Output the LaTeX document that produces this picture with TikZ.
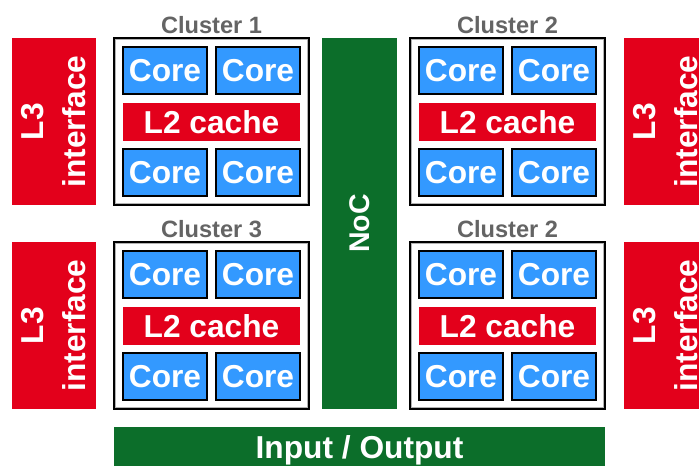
\documentclass[tikz,border=0pt]{standalone}
\usepackage{fontspec}
\setmainfont{Liberation Sans}
\definecolor{l3red}{RGB}{227,0,27}
\definecolor{coreblue}{RGB}{51,153,255}
\definecolor{nocgreen}{RGB}{12,110,42}
\definecolor{titlegray}{RGB}{100,100,100}
\tikzset{
  bigfont/.style={font=\bfseries\fontsize{31.7}{42}\selectfont},
  cluster/.style={draw=black, line width=1.4pt, fill=white, minimum width=195pt, minimum height=167pt, inner sep=0pt},
  innerline/.style={draw=gray!60, line width=0.7pt},
  ctitle/.style={text=titlegray, font=\bfseries\fontsize{23.6}{28}\selectfont, inner sep=0pt},
  core/.style={bigfont, draw=black, line width=1.3pt, fill=coreblue, text=white, minimum width=84pt, minimum height=47pt, inner sep=0pt},
  ltwo/.style={bigfont, fill=l3red, text=white, minimum width=177pt, minimum height=38pt, inner sep=0pt},
  lthree/.style={bigfont, fill=l3red, text=white, rotate=90, align=center, minimum width=167pt, minimum height=84pt, inner sep=0pt},
  noc/.style={font=\bfseries\fontsize{28.5}{34}\selectfont, fill=nocgreen, text=white, rotate=90, minimum width=371pt, minimum height=75pt, inner sep=0pt},
  io/.style={bigfont, fill=nocgreen, text=white, minimum width=491pt, minimum height=46pt, inner sep=0pt},
}
\begin{document}
\begin{tikzpicture}[x=1pt,y=-1pt]
\useasboundingbox (0,0) rectangle (699,466);
\clip (0,0) rectangle (699,466);

% L3 interfaces
\node[lthree] (l3a) at (54,121.5) {L3\\interface};
\node[lthree] (l3b) at (54,325.5) {L3\\interface};
\node[lthree] (l3c) at (666,121.5) {L3\\interface};
\node[lthree] (l3d) at (666,325.5) {L3\\interface};

% NoC
\node[noc] (noc) at (359.5,223.5) {NoC};

% Input / Output
\node[io, anchor=north] (io) at (359.5,427) {Input / Output};

% Clusters
\foreach \n/\dx/\dy/\t in {1/0/0/Cluster 1, 2/296/0/Cluster 2, 3/0/204/Cluster 3, 4/296/204/Cluster 2}{
  \begin{scope}[shift={(\dx,\dy)}]
    \node[cluster] (cl\n) at (211.5,121.5) {};
    \draw[innerline] ([shift={(2pt,2pt)}]cl\n.south west) rectangle ([shift={(-2pt,-2pt)}]cl\n.north east);
    \node[ctitle] (t\n) at (211.5,25) {\t};
    \node[core] (ca\n) at (165,70.5) {Core};
    \node[core] (cb\n) at (258,70.5) {Core};
    \node[ltwo] (lt\n) at (211.5,122) {L2 cache};
    \node[core] (cc\n) at (165,172.5) {Core};
    \node[core] (cd\n) at (258,172.5) {Core};
  \end{scope}
}
\end{tikzpicture}
\end{document}
